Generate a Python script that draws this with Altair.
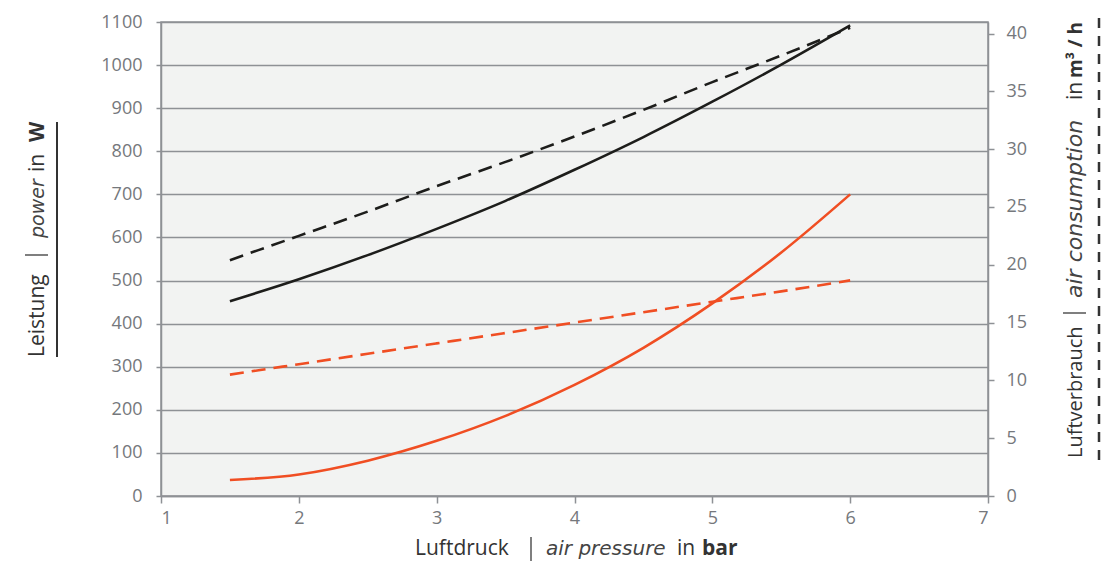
import altair as alt
import pandas as pd

# ---- data ----
pressure = [1.5, 2.0, 2.5, 3.0, 3.5, 4.0, 4.5, 5.0, 5.5, 6.0]
power_black = [452, 503, 559, 620, 685, 757, 833, 915, 1001, 1092]
power_red = [37, 50, 82, 128, 186, 258, 344, 447, 565, 700]
air_black = [20.4, 22.5, 24.6, 26.8, 28.9, 31.1, 33.4, 35.8, 38.1, 40.5]
air_red = [10.5, 11.4, 12.3, 13.2, 14.1, 15.0, 15.9, 16.8, 17.7, 18.65]
series_names = ["schwarz", "rot"]
series_colors = ["#1d1d1b", "#f04e23"]

x_ticks = [1, 2, 3, 4, 5, 6, 7]
power_ticks = list(range(0, 1101, 100))
air_ticks = list(range(0, 41, 5))

FONT = "Open Sans"
ITALIC_FONT = "DejaVu Sans"
TITLE_COLOR = "#333333"
BAR_COLOR = "#555555"
GRID = "#8e9195"
LABEL = "#75787c"

power_df = pd.DataFrame({
    "p": pressure * 2,
    "power": power_black + power_red,
    "series": [series_names[0]] * len(pressure) + [series_names[1]] * len(pressure),
})
air_df = pd.DataFrame({
    "p": pressure * 2,
    "air": air_black + air_red,
    "series": [series_names[0]] * len(pressure) + [series_names[1]] * len(pressure),
})

x_enc = alt.X("p:Q", scale=alt.Scale(domain=[1, 7], nice=False),
              axis=alt.Axis(values=x_ticks, title=None, grid=False, tickSize=7,
                            labelPadding=6, format="d"))
color_enc = alt.Color("series:N", scale=alt.Scale(domain=series_names, range=series_colors),
                      legend=None)

power_lines = alt.Chart(power_df).mark_line(strokeWidth=2.6, interpolate="monotone").encode(
    x=x_enc,
    y=alt.Y("power:Q", scale=alt.Scale(domain=[0, 1100], nice=False),
            axis=alt.Axis(values=power_ticks, orient="left", title=None, grid=True,
                          tickSize=5, labelPadding=14, format="d")),
    color=color_enc,
    detail="series:N",
)

air_lines = alt.Chart(air_df).mark_line(strokeWidth=2.6, strokeDash=[14, 8],
                                        interpolate="monotone").encode(
    x=x_enc,
    y=alt.Y("air:Q", scale=alt.Scale(domain=[0, 41], nice=False),
            axis=alt.Axis(values=air_ticks, orient="right", title=None, grid=False,
                          tickSize=6, labelPadding=12, format="d")),
    color=color_enc,
    detail="series:N",
)

one = pd.DataFrame({"k": [0]})


def seg(text, x, y, angle=0, style=None, weight=None, size=21, font=FONT, color=TITLE_COLOR):
    mk = dict(text=text, font=font, fontSize=size, color=color, align="left",
              baseline="alphabetic")
    if angle:
        mk["angle"] = angle
    if style:
        mk["fontStyle"] = style
    if weight:
        mk["fontWeight"] = weight
    return alt.Chart(one).mark_text(**mk).encode(x=alt.value(x), y=alt.value(y))


def bar(x, x2, y, y2):
    return alt.Chart(one).mark_rule(color=BAR_COLOR, strokeWidth=1.5).encode(
        x=alt.value(x), x2=alt.value(x2), y=alt.value(y), y2=alt.value(y2))


texts = [
    # bottom title
    seg("Luftdruck", 254, 533),
    seg("air pressure", 385, 533, style="italic", size=20, font=ITALIC_FONT, color="#444444"),
    seg("in", 516, 533),
    seg("bar", 541, 533, weight="bold"),
    # left title (rotated)
    seg("Leistung", -117, 335, angle=270),
    seg("power", -117, 216, angle=270, style="italic", size=19, font=ITALIC_FONT, color="#444444"),
    seg("in", -117, 150, angle=270),
    seg("W", -117, 120, angle=270, weight="bold"),
    # right title (rotated)
    seg("Luftverbrauch", 921, 436, angle=270, size=20),
    seg("air consumption", 921, 276, angle=270, style="italic", size=22, font=ITALIC_FONT,
        color="#444444"),
    seg("in", 921, 78, angle=270),
    seg("m³ / h", 921, 56, angle=270, weight="bold", size=19),
]

bars = [
    bar(370, 370, 515, 539),      # bottom title separator
    bar(-136, -113, 233, 233),    # left title separator
    bar(902, 925, 291, 291),      # right title separator
]

underline = alt.Chart(one).mark_rule(color=TITLE_COLOR, strokeWidth=2).encode(
    x=alt.value(-104), y=alt.value(100), y2=alt.value(335))
dash_key = alt.Chart(one).mark_rule(color=TITLE_COLOR, strokeWidth=2.5,
                                    strokeDash=[10, 8]).encode(
    x=alt.value(938), y=alt.value(-4), y2=alt.value(438))

chart = alt.layer(power_lines, air_lines, *texts, *bars, underline, dash_key).resolve_scale(
    y="independent"
).properties(
    width=827, height=474,
    autosize=alt.AutoSizeParams(type="none"),
    padding={"left": 153, "top": 14, "right": 114, "bottom": 80},
).configure_view(
    fill="#f2f3f2", stroke=GRID, strokeWidth=1.5
).configure_axis(
    labelFont=FONT, labelFontSize=18, labelColor=LABEL,
    domainColor=GRID, tickColor=GRID, gridColor=GRID,
    domainWidth=1.5, tickWidth=1.5, gridWidth=1.5,
)

chart.save("out.html", embed_options={"renderer": "svg", "actions": False})
